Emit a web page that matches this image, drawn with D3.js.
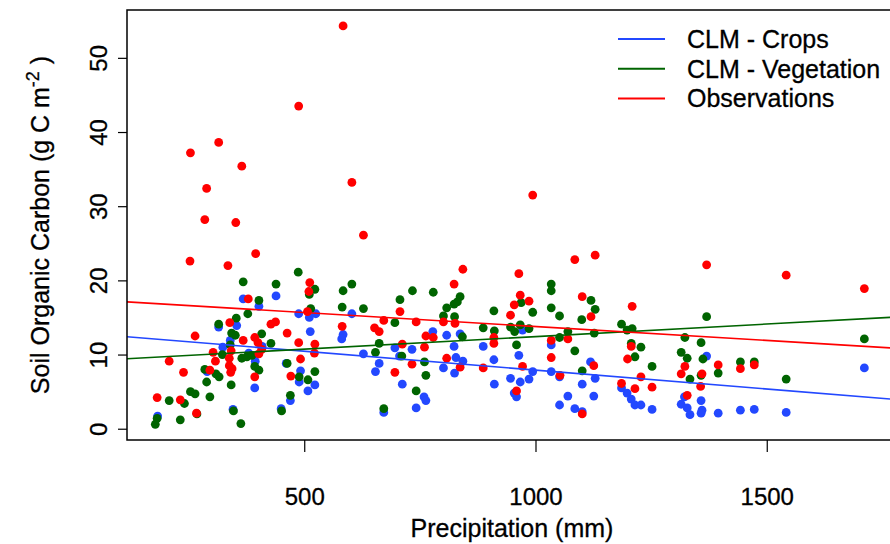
<!DOCTYPE html>
<html>
<head>
<meta charset="utf-8">
<script src="https://cdn.jsdelivr.net/npm/d3@7"></script>
<style>
  body { margin: 0; background: #fff; }
  text { font-family: "Liberation Sans", Arial, sans-serif; fill: #000; stroke: #000; stroke-width: 0.3px; }
</style>
</head>
<body>
<div id="chart"></div>
<script>
/**
 * Data: precipitation (mm) and soil organic carbon (g C m-2)
 */
const seriesNames = ["CLM - Crops", "CLM - Vegetation", "Observations"];
const seriesColors = ["#2348ff", "#006400", "#ff0000"];

const cropPrecip = [368, 402, 439, 488, 511, 525, 354, 315, 513, 340, 324, 380, 409, 394, 461, 492, 489, 523, 508, 393, 290, 470, 450, 346, 183,
  603, 584, 581, 778, 808, 837, 824, 887, 696, 628, 706, 733, 828, 843, 662, 654, 910, 801, 825, 712, 911, 759, 763, 742, 672,
  972, 1034, 964, 1119, 994, 1034, 946, 967, 986, 1052, 1129, 1101, 1186, 954, 959, 1070, 1126, 1198, 1207, 1215, 1228, 1052, 1085, 1101, 1252,
  1322, 1315, 1328, 1334, 1370, 1711, 1358, 1360, 1358, 1395, 1443, 1473, 1542];
const cropSoc = [17.5, 16.5, 17.9, 15.5, 15.0, 15.5, 13.9, 13.7, 13.1, 11.9, 11.0, 10.2, 11.1, 9.1, 8.8, 7.8, 6.3, 5.9, 5.1, 5.5, 7.7, 3.8, 2.7, 2.6, 1.7,
  15.5, 12.7, 12.1, 13.1, 12.6, 12.8, 11.1, 11.1, 10.9, 10.1, 9.8, 10.7, 9.6, 9.1, 8.8, 7.7, 9.3, 8.2, 7.5, 6.0, 6.0, 4.3, 3.8, 2.8, 2.2,
  13.3, 11.3, 9.9, 9.0, 7.7, 7.7, 6.8, 6.3, 6.7, 7.0, 6.8, 6.0, 5.5, 4.8, 4.3, 4.4, 4.4, 4.8, 4.0, 3.2, 3.2, 3.2, 2.7, 2.3, 2.6,
  4.3, 3.3, 2.8, 1.9, 9.8, 8.2, 3.8, 2.5, 2.1, 2.1, 2.5, 2.6, 2.2];

const vegPrecip = [487, 368, 439, 523, 511, 402, 514, 378, 353, 315, 343, 351, 408, 428, 340, 323, 365, 376, 387, 393, 402, 463, 523, 285, 309, 316, 289, 489, 508, 342, 296, 254, 264, 241, 208, 470, 451, 347, 268, 232, 182, 178, 363,
  603, 584, 734, 779, 707, 837, 831, 824, 808, 582, 628, 910, 801, 825, 696, 887, 911, 842, 662, 654, 711, 760, 763, 742, 672,
  1034, 1034, 1120, 1129, 1034, 1052, 994, 969, 1100, 1186, 946, 955, 967, 986, 1070, 1198, 1209, 1127, 1052, 959, 1207, 1228, 1085, 1215,
  1323, 1315, 1328, 1252, 1101, 1334, 1370, 1711, 1358, 1362, 1395, 1443, 1473, 1542, 1358];
const vegSoc = [21.1, 19.8, 19.5, 18.8, 18.1, 17.3, 16.2, 15.5, 14.9, 14.1, 12.9, 12.6, 12.8, 11.5, 11.3, 10.0, 9.5, 9.7, 9.9, 8.4, 7.9, 8.8, 7.7, 8.0, 7.4, 7.0, 6.3, 7.0, 6.6, 5.9, 4.3, 5.0, 4.7, 3.4, 3.8, 4.5, 2.4, 2.4, 2.0, 1.2, 1.4, 0.6, 0.7,
  19.5, 18.6, 18.6, 18.4, 17.4, 17.8, 17.1, 16.8, 16.3, 16.4, 16.2, 15.9, 15.2, 15.1, 14.3, 13.6, 13.2, 12.4, 11.5, 10.3, 9.8, 9.0, 7.2, 5.1, 2.7,
  19.5, 18.6, 17.3, 16.1, 16.3, 15.2, 15.7, 17.0, 14.7, 14.1, 13.7, 13.1, 14.0, 13.5, 13.1, 13.3, 13.5, 12.9, 12.3, 11.3, 11.5, 11.0, 10.5, 9.7,
  12.3, 10.3, 9.5, 8.4, 7.8, 6.7, 15.1, 12.1, 11.6, 9.4, 7.5, 9.0, 9.0, 6.7, 7.2];

const obsPrecip = [584, 488, 315, 254, 365, 289, 285, 352, 253, 335, 395, 512, 510, 379, 507, 339, 428, 438, 264, 463, 368, 393, 400, 488, 523, 408, 402, 342, 303, 522, 338, 308, 208, 492, 338, 344, 341, 296, 239, 393, 471, 182, 232, 267,
  603, 628, 843, 824, 707, 652, 662, 672, 742, 801, 826, 582, 763, 779, 910, 910, 712, 760, 808, 733, 837, 887, 696,
  994, 1085, 1129, 964, 967, 954, 986, 946, 1101, 1120, 1209, 1034, 1070, 1207, 1199, 972, 1034, 1126, 1053, 1228, 1323, 1315, 1186, 1215, 1252, 959, 1328, 1101,
  1370, 1542, 1711, 1395, 1443, 1473, 1360, 1357];
const obsSoc = [54.3, 43.5, 38.6, 37.2, 35.4, 32.4, 28.2, 27.8, 22.6, 22.0, 23.6, 19.7, 18.5, 17.5, 15.8, 14.3, 14.1, 14.4, 12.5, 12.9, 11.9, 12.3, 11.6, 11.6, 11.4, 10.7, 10.1, 10.5, 10.3, 10.2, 9.5, 9.1, 9.1, 9.4, 8.5, 8.1, 7.6, 7.9, 7.6, 7.0, 7.1, 4.2, 3.9, 2.1,
  33.2, 26.1, 21.5, 19.5, 15.8, 13.6, 13.1, 14.6, 14.4, 14.4, 14.2, 13.8, 12.5, 12.3, 12.3, 11.5, 11.4, 11.0, 9.5, 8.7, 8.3, 8.2, 7.6,
  31.5, 22.8, 23.4, 20.9, 18.0, 16.7, 17.2, 15.3, 17.8, 15.1, 16.5, 11.9, 12.1, 11.1, 9.4, 8.4, 9.6, 8.5, 7.2, 7.0, 8.4, 7.4, 6.1, 5.4, 5.6, 5.1, 4.5, 2.0,
  22.1, 20.7, 18.9, 8.6, 8.1, 8.6, 7.4, 5.7];

// fitted lines (intercept, slope) for crops, vegetation, observations
const trendIntercept = [12.99, 9.04, 17.54];
const trendSlope = [-0.00509, 0.00338, -0.00376];

const xTicks = [500, 1000, 1500];
const yTicks = [0, 10, 20, 30, 40, 50];

/**
 * Basic Settings
 */
const canvasWidth = 890;
const canvasHeight = 544;
const margin = { top: 10, right: -7, bottom: 104, left: 127 };
const plotRight = canvasWidth - margin.right;
const plotBottom = canvasHeight - margin.bottom;
const fontSize = 24;

const svg = d3.select("#chart")
  .append("svg")
  .attr("width", canvasWidth)
  .attr("height", canvasHeight)
  .style("background", "#fff");

const xScale = d3.scaleLinear()
  .domain([116.8, 1781.6])
  .range([margin.left, plotRight]);

const yScale = d3.scaleLinear()
  .domain([-1.52, 56.45])
  .range([plotBottom, margin.top]);

svg.append("clipPath")
  .attr("id", "plot-clip")
  .append("rect")
  .attr("x", margin.left)
  .attr("y", margin.top)
  .attr("width", plotRight - margin.left)
  .attr("height", plotBottom - margin.top);

// X axis
const xAxisG = svg.append("g")
  .attr("transform", "translate(0," + plotBottom + ")")
  .call(d3.axisBottom(xScale).tickValues(xTicks).tickFormat(d3.format("d"))
    .tickSize(12).tickPadding(36).tickSizeOuter(0));
xAxisG.select(".domain").remove();
xAxisG.selectAll(".tick line").attr("stroke", "#000").attr("stroke-width", 1.2);
xAxisG.selectAll(".tick text")
  .attr("font-size", fontSize)
  .attr("font-family", null);

// Y axis, labels turned like R does
const yAxisG = svg.append("g")
  .attr("transform", "translate(" + margin.left + ",0)")
  .call(d3.axisLeft(yScale).tickValues(yTicks).tickSize(9).tickSizeOuter(0));
yAxisG.select(".domain").remove();
yAxisG.selectAll(".tick line").attr("stroke", "#000").attr("stroke-width", 1.2);
yAxisG.selectAll(".tick text")
  .attr("font-size", fontSize)
  .attr("font-family", null)
  .attr("transform", "rotate(-90)")
  .attr("x", 0)
  .attr("y", -28)
  .attr("dy", "0.35em")
  .attr("text-anchor", "middle");

// points: crops, then vegetation, then observations on top
const seriesPoints = [
  d3.zip(cropPrecip, cropSoc),
  d3.zip(vegPrecip, vegSoc),
  d3.zip(obsPrecip, obsSoc)
];

const plotG = svg.append("g").attr("clip-path", "url(#plot-clip)");

seriesPoints.forEach(function(points, i) {
  plotG.append("g")
    .selectAll("circle")
    .data(points)
    .join("circle")
    .attr("cx", d => xScale(d[0]))
    .attr("cy", d => yScale(d[1]))
    .attr("r", 4.4)
    .attr("fill", seriesColors[i]);
});

// regression lines across the whole plot
const xDomain = xScale.domain();
seriesNames.forEach(function(name, i) {
  plotG.append("line")
    .attr("x1", xScale(xDomain[0]))
    .attr("y1", yScale(trendIntercept[i] + trendSlope[i] * xDomain[0]))
    .attr("x2", xScale(xDomain[1]))
    .attr("y2", yScale(trendIntercept[i] + trendSlope[i] * xDomain[1]))
    .attr("stroke", seriesColors[i])
    .attr("stroke-width", 1.6);
});

// box
svg.append("rect")
  .attr("x", margin.left)
  .attr("y", margin.top)
  .attr("width", plotRight - margin.left)
  .attr("height", plotBottom - margin.top)
  .attr("fill", "none")
  .attr("stroke", "#000")
  .attr("stroke-width", 1.5);

// axis titles
svg.append("text")
  .attr("x", (margin.left + plotRight) / 2)
  .attr("y", 528)
  .attr("dy", "0.35em")
  .attr("text-anchor", "middle")
  .attr("font-size", 25)
  .text("Precipitation (mm)");

const yTitle = svg.append("text")
  .attr("transform", "translate(40," + (margin.top + plotBottom) / 2 + ") rotate(-90)")
  .attr("text-anchor", "middle")
  .attr("dy", "0.35em")
  .attr("font-size", 25);
yTitle.append("tspan").text("Soil Organic Carbon (g C m");
yTitle.append("tspan").attr("dy", -10).attr("font-size", 18).text("-2");
yTitle.append("tspan").attr("dy", 10).text(" )");

// legend, no frame
const legend = svg.append("g").attr("transform", "translate(618,39)");
seriesNames.forEach(function(name, i) {
  const row = legend.append("g").attr("transform", "translate(0," + i * 29.8 + ")");
  row.append("line")
    .attr("x1", 0).attr("x2", 47)
    .attr("stroke", seriesColors[i])
    .attr("stroke-width", 2);
  row.append("text")
    .attr("x", 69)
    .attr("dy", "0.35em")
    .attr("font-size", 25)
    .text(name);
});
</script>
</body>
</html>
